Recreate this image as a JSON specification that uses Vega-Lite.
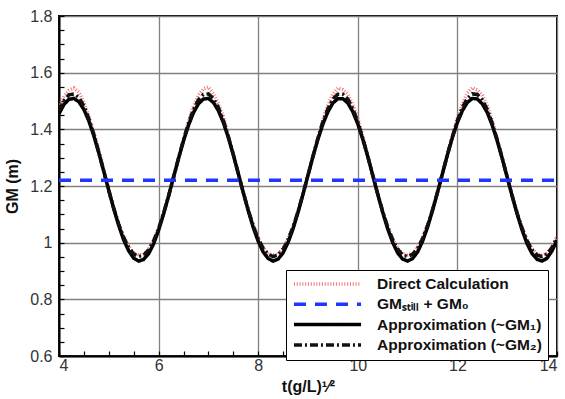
{
  "$schema": "https://vega.github.io/schema/vega-lite/v6.json",
  "width": 498,
  "height": 340,
  "autosize": {"type": "none"},
  "padding": {"left": 59, "top": 16, "right": 8, "bottom": 43},
  "config": {
    "font": "Liberation Sans",
    "view": {"stroke": "black", "strokeWidth": 2},
    "axis": {
      "domainColor": "black",
      "domainWidth": 2,
      "tickColor": "black",
      "tickWidth": 1.2,
      "tickSize": -5,
      "labelFont": "Liberation Sans",
      "labelFontSize": 16,
      "labelColor": "#333333",
      "titleFont": "Liberation Sans",
      "titleFontSize": 16,
      "titleFontWeight": "bold",
      "titleColor": "#111111",
      "gridWidth": 1.3
    },
    "legend": {
      "orient": "none",
      "legendX": 227,
      "legendY": 254,
      "direction": "vertical",
      "strokeColor": "black",
      "fillColor": "white",
      "padding": 6,
      "labelFont": "Liberation Sans",
      "labelFontSize": 15.5,
      "labelFontWeight": "bold",
      "labelColor": "#111111",
      "labelLimit": 400,
      "symbolType": "stroke",
      "symbolSize": 4500,
      "clipHeight": 16,
      "rowPadding": 3.3,
      "labelOffset": 14
    }
  },
  "datasets": {
    "curves": [
      {"t": 4.0, "gm1": 1.455, "gm2": 1.465, "direct": 1.477},
      {"t": 4.1, "gm1": 1.488, "gm2": 1.501, "direct": 1.517},
      {"t": 4.2, "gm1": 1.506, "gm2": 1.522, "direct": 1.538},
      {"t": 4.3, "gm1": 1.509, "gm2": 1.525, "direct": 1.546},
      {"t": 4.4, "gm1": 1.497, "gm2": 1.512, "direct": 1.531},
      {"t": 4.5, "gm1": 1.470, "gm2": 1.482, "direct": 1.495},
      {"t": 4.6, "gm1": 1.429, "gm2": 1.437, "direct": 1.446},
      {"t": 4.7, "gm1": 1.377, "gm2": 1.382, "direct": 1.389},
      {"t": 4.8, "gm1": 1.316, "gm2": 1.318, "direct": 1.326},
      {"t": 4.9, "gm1": 1.251, "gm2": 1.251, "direct": 1.257},
      {"t": 5.0, "gm1": 1.184, "gm2": 1.184, "direct": 1.185},
      {"t": 5.1, "gm1": 1.119, "gm2": 1.121, "direct": 1.122},
      {"t": 5.2, "gm1": 1.060, "gm2": 1.065, "direct": 1.067},
      {"t": 5.3, "gm1": 1.009, "gm2": 1.018, "direct": 1.021},
      {"t": 5.4, "gm1": 0.971, "gm2": 0.983, "direct": 0.987},
      {"t": 5.5, "gm1": 0.945, "gm2": 0.960, "direct": 0.962},
      {"t": 5.6, "gm1": 0.935, "gm2": 0.951, "direct": 0.957},
      {"t": 5.7, "gm1": 0.941, "gm2": 0.956, "direct": 0.958},
      {"t": 5.8, "gm1": 0.961, "gm2": 0.974, "direct": 0.978},
      {"t": 5.9, "gm1": 0.996, "gm2": 1.006, "direct": 1.009},
      {"t": 6.0, "gm1": 1.044, "gm2": 1.050, "direct": 1.053},
      {"t": 6.1, "gm1": 1.101, "gm2": 1.104, "direct": 1.105},
      {"t": 6.2, "gm1": 1.164, "gm2": 1.165, "direct": 1.165},
      {"t": 6.3, "gm1": 1.231, "gm2": 1.231, "direct": 1.231},
      {"t": 6.4, "gm1": 1.297, "gm2": 1.298, "direct": 1.299},
      {"t": 6.5, "gm1": 1.359, "gm2": 1.363, "direct": 1.366},
      {"t": 6.6, "gm1": 1.414, "gm2": 1.421, "direct": 1.428},
      {"t": 6.7, "gm1": 1.459, "gm2": 1.470, "direct": 1.482},
      {"t": 6.8, "gm1": 1.490, "gm2": 1.504, "direct": 1.520},
      {"t": 6.9, "gm1": 1.507, "gm2": 1.523, "direct": 1.543},
      {"t": 7.0, "gm1": 1.509, "gm2": 1.525, "direct": 1.549},
      {"t": 7.1, "gm1": 1.495, "gm2": 1.509, "direct": 1.527},
      {"t": 7.2, "gm1": 1.466, "gm2": 1.477, "direct": 1.490},
      {"t": 7.3, "gm1": 1.424, "gm2": 1.432, "direct": 1.446},
      {"t": 7.4, "gm1": 1.371, "gm2": 1.375, "direct": 1.379},
      {"t": 7.5, "gm1": 1.310, "gm2": 1.311, "direct": 1.313},
      {"t": 7.6, "gm1": 1.244, "gm2": 1.244, "direct": 1.244},
      {"t": 7.7, "gm1": 1.177, "gm2": 1.177, "direct": 1.178},
      {"t": 7.8, "gm1": 1.113, "gm2": 1.115, "direct": 1.117},
      {"t": 7.9, "gm1": 1.054, "gm2": 1.060, "direct": 1.062},
      {"t": 8.0, "gm1": 1.005, "gm2": 1.014, "direct": 1.017},
      {"t": 8.1, "gm1": 0.967, "gm2": 0.980, "direct": 0.984},
      {"t": 8.2, "gm1": 0.944, "gm2": 0.959, "direct": 0.961},
      {"t": 8.3, "gm1": 0.935, "gm2": 0.951, "direct": 0.957},
      {"t": 8.4, "gm1": 0.942, "gm2": 0.957, "direct": 0.959},
      {"t": 8.5, "gm1": 0.964, "gm2": 0.977, "direct": 0.981},
      {"t": 8.6, "gm1": 1.001, "gm2": 1.011, "direct": 1.014},
      {"t": 8.7, "gm1": 1.049, "gm2": 1.055, "direct": 1.057},
      {"t": 8.8, "gm1": 1.107, "gm2": 1.110, "direct": 1.111},
      {"t": 8.9, "gm1": 1.171, "gm2": 1.172, "direct": 1.172},
      {"t": 9.0, "gm1": 1.238, "gm2": 1.238, "direct": 1.238},
      {"t": 9.1, "gm1": 1.304, "gm2": 1.305, "direct": 1.306},
      {"t": 9.2, "gm1": 1.365, "gm2": 1.369, "direct": 1.373},
      {"t": 9.3, "gm1": 1.419, "gm2": 1.427, "direct": 1.434},
      {"t": 9.4, "gm1": 1.462, "gm2": 1.473, "direct": 1.486},
      {"t": 9.5, "gm1": 1.493, "gm2": 1.507, "direct": 1.524},
      {"t": 9.6, "gm1": 1.508, "gm2": 1.524, "direct": 1.546},
      {"t": 9.7, "gm1": 1.508, "gm2": 1.524, "direct": 1.540},
      {"t": 9.8, "gm1": 1.493, "gm2": 1.507, "direct": 1.524},
      {"t": 9.9, "gm1": 1.462, "gm2": 1.473, "direct": 1.488},
      {"t": 10.0, "gm1": 1.419, "gm2": 1.426, "direct": 1.440},
      {"t": 10.1, "gm1": 1.365, "gm2": 1.369, "direct": 1.376},
      {"t": 10.2, "gm1": 1.304, "gm2": 1.305, "direct": 1.306},
      {"t": 10.3, "gm1": 1.238, "gm2": 1.238, "direct": 1.238},
      {"t": 10.4, "gm1": 1.171, "gm2": 1.172, "direct": 1.172},
      {"t": 10.5, "gm1": 1.107, "gm2": 1.110, "direct": 1.111},
      {"t": 10.6, "gm1": 1.049, "gm2": 1.055, "direct": 1.057},
      {"t": 10.7, "gm1": 1.001, "gm2": 1.011, "direct": 1.014},
      {"t": 10.8, "gm1": 0.964, "gm2": 0.977, "direct": 0.981},
      {"t": 10.9, "gm1": 0.942, "gm2": 0.957, "direct": 0.960},
      {"t": 11.0, "gm1": 0.935, "gm2": 0.951, "direct": 0.957},
      {"t": 11.1, "gm1": 0.944, "gm2": 0.959, "direct": 0.962},
      {"t": 11.2, "gm1": 0.967, "gm2": 0.980, "direct": 0.984},
      {"t": 11.3, "gm1": 1.005, "gm2": 1.014, "direct": 1.017},
      {"t": 11.4, "gm1": 1.054, "gm2": 1.060, "direct": 1.062},
      {"t": 11.5, "gm1": 1.113, "gm2": 1.115, "direct": 1.117},
      {"t": 11.6, "gm1": 1.177, "gm2": 1.178, "direct": 1.178},
      {"t": 11.7, "gm1": 1.244, "gm2": 1.244, "direct": 1.244},
      {"t": 11.8, "gm1": 1.310, "gm2": 1.311, "direct": 1.313},
      {"t": 11.9, "gm1": 1.371, "gm2": 1.375, "direct": 1.379},
      {"t": 12.0, "gm1": 1.424, "gm2": 1.432, "direct": 1.440},
      {"t": 12.1, "gm1": 1.466, "gm2": 1.477, "direct": 1.490},
      {"t": 12.2, "gm1": 1.495, "gm2": 1.509, "direct": 1.528},
      {"t": 12.3, "gm1": 1.509, "gm2": 1.525, "direct": 1.547},
      {"t": 12.4, "gm1": 1.507, "gm2": 1.523, "direct": 1.539},
      {"t": 12.5, "gm1": 1.490, "gm2": 1.504, "direct": 1.520},
      {"t": 12.6, "gm1": 1.459, "gm2": 1.470, "direct": 1.484},
      {"t": 12.7, "gm1": 1.414, "gm2": 1.421, "direct": 1.431},
      {"t": 12.8, "gm1": 1.359, "gm2": 1.363, "direct": 1.366},
      {"t": 12.9, "gm1": 1.297, "gm2": 1.298, "direct": 1.299},
      {"t": 13.0, "gm1": 1.231, "gm2": 1.231, "direct": 1.231},
      {"t": 13.1, "gm1": 1.164, "gm2": 1.165, "direct": 1.165},
      {"t": 13.2, "gm1": 1.101, "gm2": 1.104, "direct": 1.105},
      {"t": 13.3, "gm1": 1.044, "gm2": 1.050, "direct": 1.053},
      {"t": 13.4, "gm1": 0.996, "gm2": 1.006, "direct": 1.009},
      {"t": 13.5, "gm1": 0.961, "gm2": 0.974, "direct": 0.978},
      {"t": 13.6, "gm1": 0.941, "gm2": 0.956, "direct": 0.960},
      {"t": 13.7, "gm1": 0.935, "gm2": 0.951, "direct": 0.956},
      {"t": 13.8, "gm1": 0.945, "gm2": 0.960, "direct": 0.962},
      {"t": 13.9, "gm1": 0.971, "gm2": 0.983, "direct": 0.987},
      {"t": 14.0, "gm1": 1.009, "gm2": 1.018, "direct": 1.021}
    ],
    "still": [
      {"t": 4, "gm": 1.22, "series": "still"},
      {"t": 14, "gm": 1.22, "series": "still"}
    ]
  },
  "encoding": {
    "x": {
      "field": "t",
      "type": "quantitative",
      "scale": {"domain": [4, 14], "nice": false, "zero": false},
      "axis": {
        "title": "t(g/L)¹⁄²",
        "values": [4, 4.5, 5, 5.5, 6, 6.5, 7, 7.5, 8, 8.5, 9, 9.5, 10, 10.5, 11, 11.5, 12, 12.5, 13, 13.5, 14],
        "labelExpr": "datum.value % 2 == 0 ? '' + datum.value : ''",
        "grid": true,
        "gridColor": {"condition": {"test": "datum.value % 2 == 0", "value": "#808080"}, "value": "transparent"},
        "labelPadding": 6,
        "titlePadding": 5
      }
    },
    "y": {
      "field": "gm",
      "type": "quantitative",
      "scale": {"domain": [0.6, 1.8], "nice": false, "zero": false},
      "axis": {
        "title": "GM (m)",
        "values": [0.6, 0.65, 0.7, 0.75, 0.8, 0.85, 0.9, 0.95, 1, 1.05, 1.1, 1.15, 1.2, 1.25, 1.3, 1.35, 1.4, 1.45, 1.5, 1.55, 1.6, 1.65, 1.7, 1.75, 1.8],
        "labelExpr": "abs(datum.value * 5 - round(datum.value * 5)) < 0.001 ? '' + datum.value : ''",
        "grid": true,
        "gridColor": {"condition": {"test": "abs(datum.value * 5 - round(datum.value * 5)) < 0.001", "value": "#808080"}, "value": "transparent"},
        "labelPadding": 12,
        "titlePadding": 9
      }
    },
    "color": {
      "field": "series",
      "type": "nominal",
      "scale": {"domain": ["direct", "still", "gm1", "gm2"], "range": ["#f07474", "#2035ff", "#000000", "#111111"]},
      "legend": {
        "title": null,
        "labelExpr": "datum.label == 'direct' ? 'Direct Calculation' : datum.label == 'still' ? 'GMₛₜᵢₗₗ + GM₀' : datum.label == 'gm1' ? 'Approximation (~GM₁)' : 'Approximation (~GM₂)'"
      }
    },
    "strokeDash": {
      "field": "series",
      "type": "nominal",
      "scale": {"domain": ["direct", "still", "gm1", "gm2"], "range": [[1, 1.8], [12, 9], [1, 0], [8, 3, 2, 3]]},
      "legend": {
        "title": null,
        "labelExpr": "datum.label == 'direct' ? 'Direct Calculation' : datum.label == 'still' ? 'GMₛₜᵢₗₗ + GM₀' : datum.label == 'gm1' ? 'Approximation (~GM₁)' : 'Approximation (~GM₂)'"
      }
    },
    "strokeWidth": {
      "field": "series",
      "type": "nominal",
      "scale": {"domain": ["direct", "still", "gm1", "gm2"], "range": [3.5, 3.5, 1.8, 1.2]},
      "legend": {
        "title": null,
        "labelExpr": "datum.label == 'direct' ? 'Direct Calculation' : datum.label == 'still' ? 'GMₛₜᵢₗₗ + GM₀' : datum.label == 'gm1' ? 'Approximation (~GM₁)' : 'Approximation (~GM₂)'"
      }
    }
  },
  "layer": [
    {
      "data": {"name": "curves"},
      "transform": [{"fold": ["direct", "gm1", "gm2"], "as": ["series", "gm"]}],
      "mark": {"type": "line", "clip": true}
    },
    {
      "data": {"name": "still"},
      "mark": {"type": "line", "clip": true}
    }
  ]
}
